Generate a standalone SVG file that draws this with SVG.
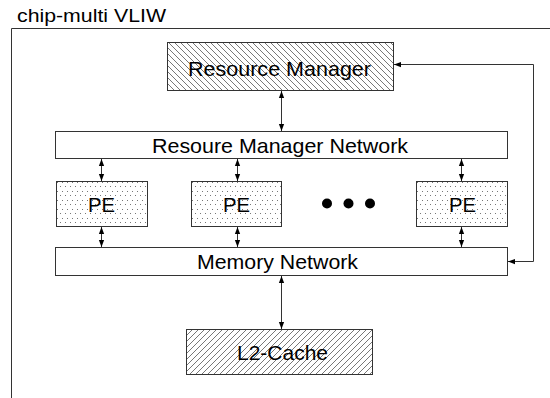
<svg xmlns="http://www.w3.org/2000/svg" width="550" height="398" viewBox="0 0 550 398">
<defs>
<style>
text{font-family:"Liberation Sans",Arial,sans-serif;fill:#000}
.lbl{font-size:21px}
.box{stroke:#333;stroke-width:1}
.con{stroke:#333;stroke-width:1;fill:none}
</style>
<pattern id="hatchBack" width="6" height="6" patternUnits="userSpaceOnUse">
<rect width="6" height="6" fill="#fff"/>
<path d="M-1,-1 L7,7 M-1,5 L1,7 M5,-1 L7,1" stroke="#555" stroke-width="0.8"/>
</pattern>
<pattern id="hatchFwd" width="6" height="6" patternUnits="userSpaceOnUse">
<rect width="6" height="6" fill="#fff"/>
<path d="M-1,7 L7,-1 M-1,1 L1,-1 M5,7 L7,5" stroke="#555" stroke-width="0.8"/>
</pattern>
<pattern id="dots" width="5" height="9" patternUnits="userSpaceOnUse">
<rect width="5" height="9" fill="#fff"/>
<rect x="2" y="2" width="1" height="1" fill="#777"/>
<rect x="0" y="6" width="1" height="1" fill="#777"/>
</pattern>
<marker id="ah" viewBox="0 0 8 8" refX="8" refY="4" markerWidth="7" markerHeight="7" orient="auto-start-reverse" markerUnits="userSpaceOnUse">
<path d="M0,1 L8,4 L0,7 Z" fill="#000"/>
</marker>
</defs>
<rect width="550" height="398" fill="#fff"/>
<g id="frame">
<text x="17" y="22" font-size="18" textLength="149" lengthAdjust="spacingAndGlyphs">chip-multi VLIW</text>
<path d="M11.5,398 V28.5 H550" class="con" stroke="#555"/>
</g>
<g id="resource-manager">
<rect x="167.5" y="42.5" width="226" height="48" fill="url(#hatchBack)" class="box"/>
<text x="188" y="76" class="lbl" textLength="183" lengthAdjust="spacingAndGlyphs">Resource Manager</text>
</g>
<g id="rm-network">
<rect x="55.5" y="131.5" width="452" height="27" fill="#fff" class="box"/>
<text x="152" y="153" class="lbl" textLength="256" lengthAdjust="spacingAndGlyphs">Resoure Manager Network</text>
</g>
<g id="pe1">
<rect x="56.5" y="181.5" width="91" height="45" fill="url(#dots)" class="box"/>
<text x="88" y="212" class="lbl" textLength="27" lengthAdjust="spacingAndGlyphs">PE</text>
</g>
<g id="pe2">
<rect x="191.5" y="181.5" width="90" height="45" fill="url(#dots)" class="box"/>
<text x="223" y="212" class="lbl" textLength="27" lengthAdjust="spacingAndGlyphs">PE</text>
</g>
<g id="ellipsis">
<circle cx="327" cy="203.5" r="5" fill="#000"/>
<circle cx="348.5" cy="203.5" r="5" fill="#000"/>
<circle cx="370" cy="203.5" r="5" fill="#000"/>
</g>
<g id="pe3">
<rect x="416.5" y="181.5" width="91" height="45" fill="url(#dots)" class="box"/>
<text x="449" y="212" class="lbl" textLength="27" lengthAdjust="spacingAndGlyphs">PE</text>
</g>
<g id="memory-network">
<rect x="55.5" y="247.5" width="452" height="28" fill="#fff" class="box"/>
<text x="197" y="269" class="lbl" textLength="161" lengthAdjust="spacingAndGlyphs">Memory Network</text>
</g>
<g id="l2-cache">
<rect x="186.5" y="329.5" width="186" height="45" fill="url(#hatchFwd)" class="box"/>
<text x="237" y="360" class="lbl" textLength="91" lengthAdjust="spacingAndGlyphs">L2-Cache</text>
</g>
<g id="connectors">
<path d="M281.5,91 V131" class="con" marker-start="url(#ah)" marker-end="url(#ah)"/>
<path d="M101.5,159 V181" class="con" marker-start="url(#ah)" marker-end="url(#ah)"/>
<path d="M237.5,159 V181" class="con" marker-start="url(#ah)" marker-end="url(#ah)"/>
<path d="M461.5,159 V181" class="con" marker-start="url(#ah)" marker-end="url(#ah)"/>
<path d="M101.5,227 V247" class="con" marker-start="url(#ah)" marker-end="url(#ah)"/>
<path d="M237.5,227 V247" class="con" marker-start="url(#ah)" marker-end="url(#ah)"/>
<path d="M461.5,227 V247" class="con" marker-start="url(#ah)" marker-end="url(#ah)"/>
<path d="M281.5,276 V329" class="con" marker-start="url(#ah)" marker-end="url(#ah)"/>
<path d="M508,261.5 H533.5 V64.5 H394" class="con" marker-start="url(#ah)" marker-end="url(#ah)"/>
</g>
</svg>
